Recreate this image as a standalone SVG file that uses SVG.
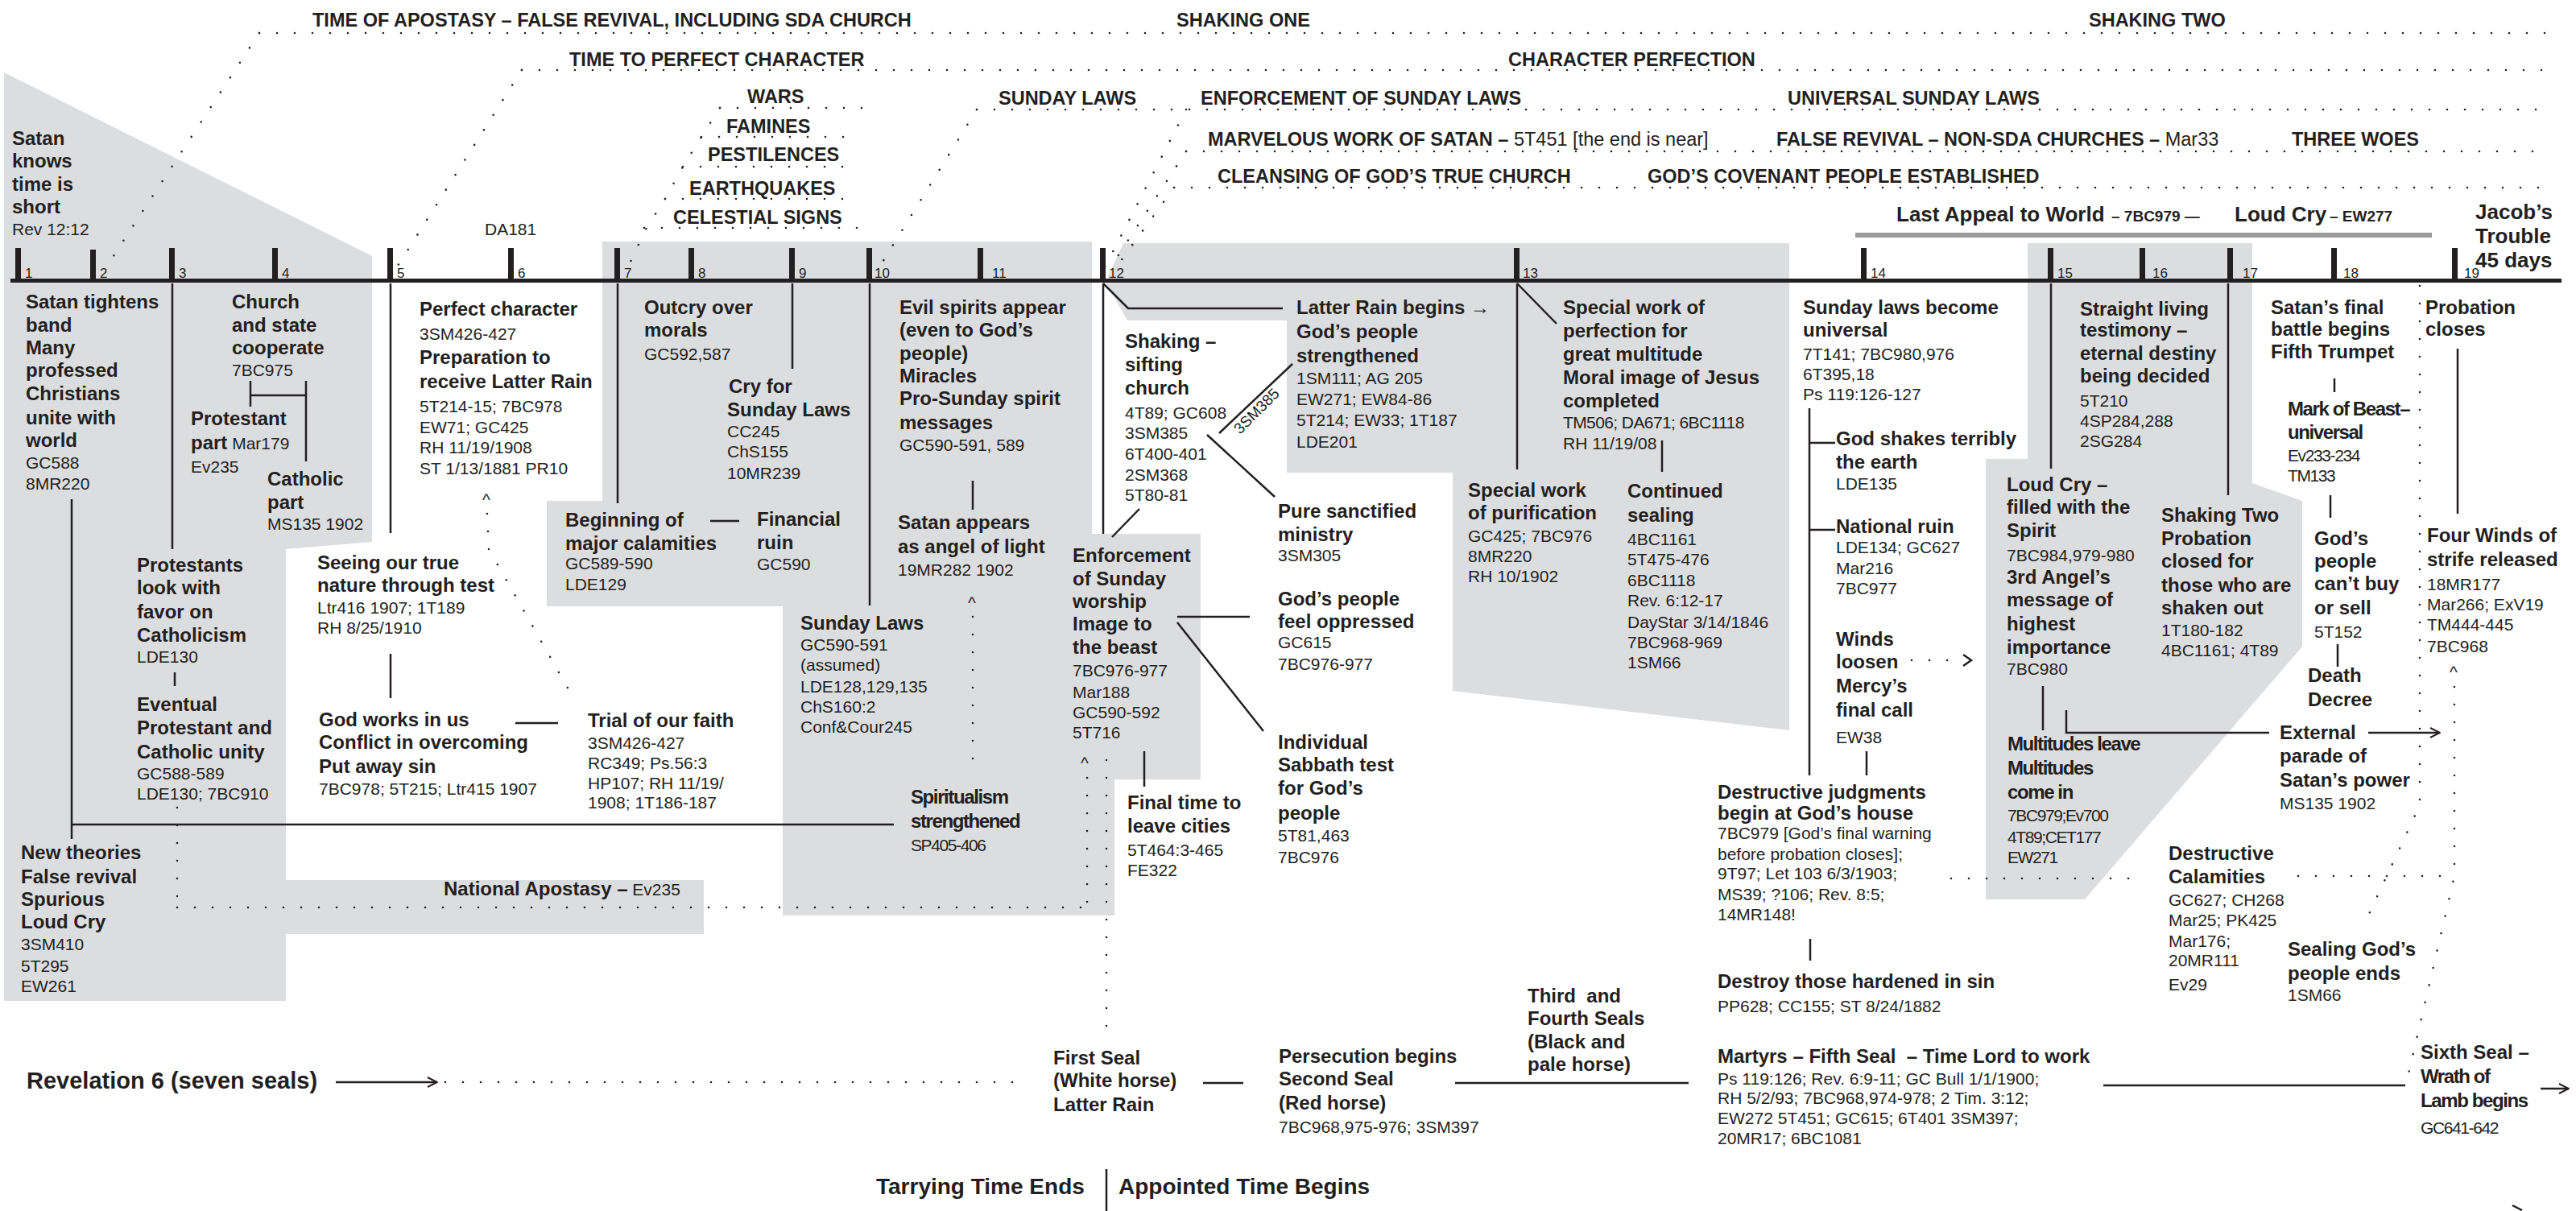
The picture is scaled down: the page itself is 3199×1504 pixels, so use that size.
<svg xmlns="http://www.w3.org/2000/svg" width="3199" height="1504" viewBox="0 0 3199 1504">
<style>
text{font-family:"Liberation Sans",Arial,Helvetica,sans-serif;fill:#231f20}
.b{font-weight:bold;font-size:24px}
.r{font-size:21px}
.rt{font-weight:normal;font-size:21px}
.h{font-weight:bold;font-size:23.5px}
.hr{font-weight:normal}
.n{font-size:17px}
.cd{letter-spacing:-1.4px}
.ln{stroke:#231f20;stroke-width:2.5;fill:none}
.dt{stroke:#231f20;stroke-width:2.6;stroke-dasharray:0 22;stroke-linecap:round;fill:none}
.gr{fill:#dcdddf}
.tk{fill:#231f20}
</style>
<defs>
<marker id="ah" viewBox="0 0 14 14" refX="13" refY="7" markerWidth="14" markerHeight="14" markerUnits="userSpaceOnUse" orient="auto"><path d="M1,1 L13,7 L1,13" fill="none" stroke="#231f20" stroke-width="2"/></marker>
</defs>
<rect width="3199" height="1504" fill="#fff"/>
<g id="backgrounds">
<polygon class="gr" points="5,90 462,318 462,673 355,682 355,1093 874,1093 874,1160 355,1160 355,1243 5,1243"/>
<polygon class="gr" points="748,300 1356,300 1356,663 1491,663 1491,968 1384,968 1384,1137 972,1137 972,753 679,753 679,622 748,622"/>
<polygon class="gr" points="1395,302 2222,302 2222,907 1804,858 1804,587 1598,587 1598,398 1400,398 1373,350"/>
<polygon class="gr" points="2518,302 2797,302 2797,600 2859,622 2859,803 2589,1117 2466,1117 2466,570 2518,570"/>
<rect x="2304" y="289" width="716" height="6" fill="#9a9a9a"/>
</g>
<g id="headings">
<text class="h" x="388" y="33">TIME OF APOSTASY – FALSE REVIVAL, INCLUDING SDA CHURCH</text>
<text class="h" x="1461" y="33">SHAKING ONE</text>
<text class="h" x="2594" y="33">SHAKING TWO</text>
<text class="h" x="707" y="82">TIME TO PERFECT CHARACTER</text>
<text class="h" x="1873" y="82">CHARACTER PERFECTION</text>
<text class="h" x="928" y="128">WARS</text>
<text class="h" x="902" y="165">FAMINES</text>
<text class="h" x="879" y="200">PESTILENCES</text>
<text class="h" x="856" y="242">EARTHQUAKES</text>
<text class="h" x="836" y="278">CELESTIAL SIGNS</text>
<text class="h" x="1240" y="130">SUNDAY LAWS</text>
<text class="h" x="1491" y="130">ENFORCEMENT OF SUNDAY LAWS</text>
<text class="h" x="2220" y="130">UNIVERSAL SUNDAY LAWS</text>
<text class="h" x="1500" y="181">MARVELOUS WORK OF SATAN –<tspan class="hr"> 5T451 [the end is near]</tspan></text>
<text class="h" x="2206" y="181">FALSE REVIVAL – NON-SDA CHURCHES –<tspan class="hr"> Mar33</tspan></text>
<text class="h" x="2846" y="181">THREE WOES</text>
<text class="h" x="1512" y="227">CLEANSING OF GOD’S TRUE CHURCH</text>
<text class="h" x="2046" y="227">GOD’S COVENANT PEOPLE ESTABLISHED</text>
<text class="b" style="font-size:26px" x="2355" y="275">Last Appeal to World<tspan style="font-size:19px" x="2622">– 7BC979 —</tspan><tspan x="2775">Loud Cry</tspan><tspan style="font-size:19px" x="2893">– EW277</tspan></text>
</g>
<g id="timeline">
<rect x="13" y="346" width="3168" height="5" class="tk"/>
<rect x="19" y="308" width="7" height="41" class="tk"/>
<rect x="112" y="310" width="7" height="39" class="tk"/>
<rect x="210" y="308" width="7" height="41" class="tk"/>
<rect x="338" y="308" width="7" height="41" class="tk"/>
<rect x="481" y="308" width="7" height="41" class="tk"/>
<rect x="631" y="308" width="7" height="41" class="tk"/>
<rect x="763" y="308" width="7" height="41" class="tk"/>
<rect x="855" y="308" width="7" height="41" class="tk"/>
<rect x="980" y="308" width="7" height="41" class="tk"/>
<rect x="1076" y="308" width="7" height="41" class="tk"/>
<rect x="1214" y="308" width="7" height="41" class="tk"/>
<rect x="1366" y="308" width="7" height="41" class="tk"/>
<rect x="1880" y="308" width="7" height="41" class="tk"/>
<rect x="2311" y="308" width="7" height="41" class="tk"/>
<rect x="2543" y="308" width="7" height="41" class="tk"/>
<rect x="2657" y="308" width="7" height="41" class="tk"/>
<rect x="2766" y="308" width="7" height="41" class="tk"/>
<rect x="2895" y="308" width="7" height="41" class="tk"/>
<rect x="3045" y="308" width="7" height="41" class="tk"/>
<text class="n" x="31" y="345">1</text>
<text class="n" x="124" y="345">2</text>
<text class="n" x="222" y="345">3</text>
<text class="n" x="350" y="345">4</text>
<text class="n" x="493" y="345">5</text>
<text class="n" x="643" y="345">6</text>
<text class="n" x="775" y="345">7</text>
<text class="n" x="867" y="345">8</text>
<text class="n" x="992" y="345">9</text>
<text class="n" x="1086" y="345">10</text>
<text class="n" x="1232" y="345">11</text>
<text class="n" x="1377" y="345">12</text>
<text class="n" x="1891" y="345">13</text>
<text class="n" x="2323" y="345">14</text>
<text class="n" x="2555" y="345">15</text>
<text class="n" x="2673" y="345">16</text>
<text class="n" x="2785" y="345">17</text>
<text class="n" x="2910" y="345">18</text>
<text class="n" x="3060" y="345">19</text>
</g>
<g id="connectors">
<line class="dt" x1="322" y1="41" x2="3165" y2="41"/>
<line class="dt" x1="648" y1="87" x2="3165" y2="87"/>
<line class="dt" x1="1213" y1="136" x2="3165" y2="136"/>
<line class="dt" x1="1473" y1="188" x2="3165" y2="188"/>
<line class="dt" x1="1458" y1="233" x2="3165" y2="233"/>
<line class="dt" x1="894" y1="134" x2="1078" y2="134"/>
<line class="dt" x1="871" y1="170" x2="1068" y2="170"/>
<line class="dt" x1="848" y1="207" x2="1065" y2="207"/>
<line class="dt" x1="826" y1="247" x2="1068" y2="247"/>
<line class="dt" x1="800" y1="283" x2="1073" y2="283"/>
<line class="dt" x1="322" y1="41" x2="133" y2="330"/>
<line class="dt" x1="648" y1="87" x2="494" y2="330"/>
<polyline class="dt" points="894,134 871,170 848,207 826,247 803,283 790,310 778,336"/>
<line class="dt" x1="1213" y1="136" x2="1090" y2="335"/>
<line class="dt" x1="1473" y1="136" x2="1372" y2="332"/>
<line class="dt" x1="1473" y1="188" x2="1379" y2="332"/>
<line class="dt" x1="1458" y1="233" x2="1386" y2="332"/>
<line class="ln" x1="214" y1="352" x2="214" y2="682"/>
<line class="ln" x1="485" y1="352" x2="485" y2="662"/>
<line class="ln" x1="767" y1="352" x2="767" y2="625"/>
<path class="ln" d="M311,473 V505 M380,473 V573 M311,491 H380"/>
<path class="ln" d="M89,620 V1042 M89,1024 H1110"/>
<line class="ln" x1="217" y1="835" x2="217" y2="852"/>
<line class="ln" x1="485" y1="812" x2="485" y2="867"/>
<line class="ln" x1="640" y1="898" x2="693" y2="898"/>
<polyline class="dt" points="605,638 607,682 715,872"/>
<line class="ln" x1="882" y1="647" x2="918" y2="647"/>
<line class="ln" x1="984" y1="352" x2="984" y2="458"/>
<line class="ln" x1="1080" y1="352" x2="1080" y2="752"/>
<line class="ln" x1="1208" y1="597" x2="1208" y2="633"/>
<line class="dt" x1="1208" y1="766" x2="1208" y2="946"/>
<line class="ln" x1="1370" y1="352" x2="1370" y2="663"/>
<path class="ln" d="M1370,352 L1401,383 H1593"/>
<line class="ln" x1="1415" y1="632" x2="1381" y2="667"/>
<line class="ln" x1="1514" y1="538" x2="1605" y2="452"/>
<line class="ln" x1="1499" y1="540" x2="1583" y2="617"/>
<line class="ln" x1="1462" y1="766" x2="1552" y2="766"/>
<line class="ln" x1="1462" y1="773" x2="1569" y2="908"/>
<line class="ln" x1="1421" y1="933" x2="1421" y2="977"/>
<line class="dt" x1="1350" y1="966" x2="1350" y2="1127"/>
<line class="dt" x1="1374" y1="944" x2="1374" y2="1275"/>
<line class="dt" x1="220" y1="1127" x2="1350" y2="1127"/>
<line class="dt" x1="220" y1="1003" x2="220" y2="1127"/>
<line class="ln" x1="1884" y1="352" x2="1884" y2="583"/>
<line class="ln" x1="1884" y1="352" x2="1933" y2="402"/>
<line class="ln" x1="2064" y1="547" x2="2064" y2="586"/>
<path class="ln" d="M2247,507 V963 M2247,550 H2279 M2247,658 H2279"/>
<line class="ln" x1="2318" y1="933" x2="2318" y2="963"/>
<line class="dt" x1="2374" y1="820" x2="2420" y2="820"/>
<path class="ln" d="M2438,813 L2448,820 L2438,827" stroke-width="2"/>
<line class="ln" x1="2248" y1="1166" x2="2248" y2="1193"/>
<line class="dt" x1="2423" y1="1091" x2="2655" y2="1091"/>
<line class="ln" x1="2547" y1="352" x2="2547" y2="582"/>
<line class="ln" x1="2767" y1="352" x2="2767" y2="615"/>
<line class="ln" x1="2537" y1="852" x2="2537" y2="907"/>
<path class="ln" d="M2566,882 V910 H2818"/>
<line class="ln" x1="2941" y1="910" x2="3030" y2="910" marker-end="url(#ah)"/>
<line class="ln" x1="2899" y1="470" x2="2899" y2="487"/>
<line class="ln" x1="2894" y1="615" x2="2894" y2="643"/>
<line class="ln" x1="2903" y1="800" x2="2903" y2="828"/>
<line class="ln" x1="3052" y1="433" x2="3052" y2="638" stroke-width="5"/>
<polyline class="dt" points="3005,355 3005,1000 2935,1150"/>
<polyline class="dt" points="3048,853 3048,1088 2990,1338"/>
<line class="dt" x1="2854" y1="1088" x2="3048" y2="1088"/>
<line class="ln" x1="417" y1="1344" x2="543" y2="1344" marker-end="url(#ah)"/>
<line class="dt" x1="553" y1="1344" x2="1274" y2="1344"/>
<line class="ln" x1="1494" y1="1345" x2="1544" y2="1345"/>
<line class="ln" x1="1807" y1="1345" x2="2097" y2="1345"/>
<line class="ln" x1="2612" y1="1348" x2="2987" y2="1348"/>
<line class="ln" x1="3155" y1="1352" x2="3190" y2="1352" stroke-width="3.5" marker-end="url(#ah)"/>
<path class="ln" d="M3120,1497 L3132,1503" stroke-width="2"/>
<line class="ln" x1="1374" y1="1452" x2="1374" y2="1504"/>
</g>
<g id="n-satan-knows"><text class="b" x="15"><tspan x="15" y="180">Satan</tspan><tspan x="15" y="208">knows</tspan><tspan x="15" y="237">time is</tspan><tspan x="15" y="265">short</tspan><tspan class="rt" x="15" y="292">Rev 12:12</tspan></text></g>
<g id="n-da181"><text class="r" x="602" y="292">DA181</text></g>
<g id="n-tightens"><text class="b"><tspan x="32" y="383">Satan tightens</tspan><tspan x="32" y="412">band</tspan><tspan x="32" y="440">Many</tspan><tspan x="32" y="468">professed</tspan><tspan x="32" y="497">Christians</tspan><tspan x="32" y="527">unite with</tspan><tspan x="32" y="555">world</tspan><tspan class="rt" x="32" y="582">GC588</tspan><tspan class="rt" x="32" y="608">8MR220</tspan></text></g>
<g id="n-church-state"><text class="b"><tspan x="288" y="383">Church</tspan><tspan x="288" y="412">and state</tspan><tspan x="288" y="440">cooperate</tspan><tspan class="rt" x="288" y="467">7BC975</tspan></text></g>
<g id="n-protestant-part"><text class="b"><tspan x="237" y="528">Protestant</tspan><tspan x="237" y="558">part</tspan><tspan class="rt"> Mar179</tspan><tspan class="rt" x="237" y="587">Ev235</tspan></text></g>
<g id="n-catholic-part"><text class="b"><tspan x="332" y="603">Catholic</tspan><tspan x="332" y="632">part</tspan><tspan class="rt" x="332" y="658">MS135 1902</tspan></text></g>
<g id="n-protestants-favor"><text class="b"><tspan x="170" y="710">Protestants</tspan><tspan x="170" y="738">look with</tspan><tspan x="170" y="768">favor on</tspan><tspan x="170" y="797">Catholicism</tspan><tspan class="rt" x="170" y="823">LDE130</tspan></text></g>
<g id="n-eventual"><text class="b"><tspan x="170" y="883">Eventual</tspan><tspan x="170" y="912">Protestant and</tspan><tspan x="170" y="942">Catholic unity</tspan><tspan class="rt" x="170" y="968">GC588-589</tspan><tspan class="rt" x="170" y="993">LDE130; 7BC910</tspan></text></g>
<g id="n-new-theories"><text class="b"><tspan x="26" y="1067">New theories</tspan><tspan x="26" y="1097">False revival</tspan><tspan x="26" y="1125">Spurious</tspan><tspan x="26" y="1153">Loud Cry</tspan><tspan class="rt" x="26" y="1180">3SM410</tspan><tspan class="rt" x="26" y="1207">5T295</tspan><tspan class="rt" x="26" y="1232">EW261</tspan></text></g>
<g id="n-perfect"><text class="b"><tspan x="521" y="392">Perfect character</tspan><tspan class="rt" x="521" y="422">3SM426-427</tspan><tspan x="521" y="452">Preparation to</tspan><tspan x="521" y="482">receive Latter Rain</tspan><tspan class="rt" x="521" y="512">5T214-15; 7BC978</tspan><tspan class="rt" x="521" y="538">EW71; GC425</tspan><tspan class="rt" x="521" y="563">RH 11/19/1908</tspan><tspan class="rt" x="521" y="589">ST 1/13/1881 PR10</tspan></text><text class="r" x="599" y="628">^</text></g>
<g id="n-seeing"><text class="b"><tspan x="394" y="707">Seeing our true</tspan><tspan x="394" y="735">nature through test</tspan><tspan class="rt" x="394" y="762">Ltr416 1907; 1T189</tspan><tspan class="rt" x="394" y="787">RH 8/25/1910</tspan></text></g>
<g id="n-god-works"><text class="b"><tspan x="396" y="902">God works in us</tspan><tspan x="396" y="930">Conflict in overcoming</tspan><tspan x="396" y="960">Put away sin</tspan><tspan class="rt" x="396" y="987">7BC978; 5T215; Ltr415 1907</tspan></text></g>
<g id="n-trial"><text class="b"><tspan x="730" y="903">Trial of our faith</tspan><tspan class="rt" x="730" y="930">3SM426-427</tspan><tspan class="rt" x="730" y="955">RC349; Ps.56:3</tspan><tspan class="rt" x="730" y="980">HP107; RH 11/19/</tspan><tspan class="rt" x="730" y="1004">1908; 1T186-187</tspan></text></g>
<g id="n-outcry"><text class="b"><tspan x="800" y="390">Outcry over</tspan><tspan x="800" y="418">morals</tspan><tspan class="rt" x="800" y="447">GC592,587</tspan></text></g>
<g id="n-cry-for"><text class="b"><tspan x="905" y="488">Cry for</tspan><tspan x="903" y="517">Sunday Laws</tspan><tspan class="rt" x="903" y="543">CC245</tspan><tspan class="rt" x="903" y="568">ChS155</tspan><tspan class="rt" x="903" y="595">10MR239</tspan></text></g>
<g id="n-beginning"><text class="b"><tspan x="702" y="654">Beginning of</tspan><tspan x="702" y="683">major calamities</tspan><tspan class="rt" x="702" y="707">GC589-590</tspan><tspan class="rt" x="702" y="733">LDE129</tspan></text></g>
<g id="n-financial"><text class="b"><tspan x="940" y="653">Financial</tspan><tspan x="940" y="682">ruin</tspan><tspan class="rt" x="940" y="708">GC590</tspan></text></g>
<g id="n-evil"><text class="b"><tspan x="1117" y="390">Evil spirits appear</tspan><tspan x="1117" y="418">(even to God’s</tspan><tspan x="1117" y="447">people)</tspan><tspan x="1117" y="475">Miracles</tspan><tspan x="1117" y="503">Pro-Sunday spirit</tspan><tspan x="1117" y="533">messages</tspan><tspan class="rt" x="1117" y="560">GC590-591, 589</tspan></text></g>
<g id="n-satan-appears"><text class="b"><tspan x="1115" y="657">Satan appears</tspan><tspan x="1115" y="687">as angel of light</tspan><tspan class="rt" x="1115" y="715">19MR282 1902</tspan></text><text class="r" x="1202" y="756">^</text></g>
<g id="n-sunday-laws"><text class="b"><tspan x="994" y="782">Sunday Laws</tspan><tspan class="rt" x="994" y="808">GC590-591</tspan><tspan class="rt" x="994" y="833">(assumed)</tspan><tspan class="rt" x="994" y="860">LDE128,129,135</tspan><tspan class="rt" x="994" y="885">ChS160:2</tspan><tspan class="rt" x="994" y="910">Conf&amp;Cour245</tspan></text></g>
<g id="n-spiritualism"><text class="b cd"><tspan x="1131" y="998">Spiritualism</tspan><tspan x="1131" y="1028">strengthened</tspan><tspan class="rt" x="1131" y="1057">SP405-406</tspan></text></g>
<g id="n-national-apostasy"><text class="b" x="551" y="1112">National Apostasy –<tspan class="rt"> Ev235</tspan></text></g>
<g id="n-enforcement"><text class="b"><tspan x="1332" y="698">Enforcement</tspan><tspan x="1332" y="727">of Sunday</tspan><tspan x="1332" y="755">worship</tspan><tspan x="1332" y="783">Image to</tspan><tspan x="1332" y="812">the beast</tspan><tspan class="rt" x="1332" y="840">7BC976-977</tspan><tspan class="rt" x="1332" y="867">Mar188</tspan><tspan class="rt" x="1332" y="892">GC590-592</tspan><tspan class="rt" x="1332" y="917">5T716</tspan></text><text class="r" x="1342" y="955">^</text></g>
<g id="n-final-time"><text class="b"><tspan x="1400" y="1005">Final time to</tspan><tspan x="1400" y="1034">leave cities</tspan><tspan class="rt" x="1400" y="1063">5T464:3-465</tspan><tspan class="rt" x="1400" y="1088">FE322</tspan></text></g>
<g id="n-shaking"><text class="b"><tspan x="1397" y="432">Shaking –</tspan><tspan x="1397" y="461">sifting</tspan><tspan x="1397" y="490">church</tspan><tspan class="rt" x="1397" y="520">4T89; GC608</tspan><tspan class="rt" x="1397" y="545">3SM385</tspan><tspan class="rt" x="1397" y="571">6T400-401</tspan><tspan class="rt" x="1397" y="597">2SM368</tspan><tspan class="rt" x="1397" y="622">5T80-81</tspan></text><text class="r" style="font-size:19px" transform="translate(1540,540) rotate(-45)" x="0" y="0">3SM385</text></g>
<g id="n-latter-rain"><text class="b"><tspan x="1610" y="390">Latter Rain begins →</tspan><tspan x="1610" y="420">God’s people</tspan><tspan x="1610" y="450">strengthened</tspan><tspan class="rt" x="1610" y="477">1SM111; AG 205</tspan><tspan class="rt" x="1610" y="503">EW271; EW84-86</tspan><tspan class="rt" x="1610" y="529">5T214; EW33; 1T187</tspan><tspan class="rt" x="1610" y="556">LDE201</tspan></text></g>
<g id="n-pure"><text class="b"><tspan x="1587" y="643">Pure sanctified</tspan><tspan x="1587" y="672">ministry</tspan><tspan class="rt" x="1587" y="697">3SM305</tspan></text></g>
<g id="n-oppressed"><text class="b"><tspan x="1587" y="752">God’s people</tspan><tspan x="1587" y="780">feel oppressed</tspan><tspan class="rt" x="1587" y="805">GC615</tspan><tspan class="rt" x="1587" y="832">7BC976-977</tspan></text></g>
<g id="n-individual"><text class="b"><tspan x="1587" y="930">Individual</tspan><tspan x="1587" y="958">Sabbath test</tspan><tspan x="1587" y="987">for God’s</tspan><tspan x="1587" y="1018">people</tspan><tspan class="rt" x="1587" y="1045">5T81,463</tspan><tspan class="rt" x="1587" y="1072">7BC976</tspan></text></g>
<g id="n-special-perfection"><text class="b"><tspan x="1941" y="390">Special work of</tspan><tspan x="1941" y="419">perfection for</tspan><tspan x="1941" y="448">great multitude</tspan><tspan x="1941" y="477">Moral image of Jesus</tspan><tspan x="1941" y="506">completed</tspan><tspan class="rt" x="1941" y="532" letter-spacing="-0.6">TM506; DA671; 6BC1118</tspan><tspan class="rt" x="1941" y="558">RH 11/19/08</tspan></text></g>
<g id="n-purification"><text class="b"><tspan x="1823" y="617">Special work</tspan><tspan x="1823" y="645">of purification</tspan><tspan class="rt" x="1823" y="673">GC425; 7BC976</tspan><tspan class="rt" x="1823" y="698">8MR220</tspan><tspan class="rt" x="1823" y="723">RH 10/1902</tspan></text></g>
<g id="n-sealing"><text class="b"><tspan x="2021" y="618">Continued</tspan><tspan x="2021" y="648">sealing</tspan><tspan class="rt" x="2021" y="677">4BC1161</tspan><tspan class="rt" x="2021" y="702">5T475-476</tspan><tspan class="rt" x="2021" y="728">6BC1118</tspan><tspan class="rt" x="2021" y="753">Rev. 6:12-17</tspan><tspan class="rt" x="2021" y="780">DayStar 3/14/1846</tspan><tspan class="rt" x="2021" y="805">7BC968-969</tspan><tspan class="rt" x="2021" y="830">1SM66</tspan></text></g>
<g id="n-sunday-universal"><text class="b"><tspan x="2239" y="390">Sunday laws become</tspan><tspan x="2239" y="418">universal</tspan><tspan class="rt" x="2239" y="447">7T141; 7BC980,976</tspan><tspan class="rt" x="2239" y="472">6T395,18</tspan><tspan class="rt" x="2239" y="497">Ps 119:126-127</tspan></text></g>
<g id="n-god-shakes"><text class="b"><tspan x="2280" y="553">God shakes terribly</tspan><tspan x="2280" y="582">the earth</tspan><tspan class="rt" x="2280" y="608">LDE135</tspan></text></g>
<g id="n-national-ruin"><text class="b"><tspan x="2280" y="662">National ruin</tspan><tspan class="rt" x="2280" y="687">LDE134; GC627</tspan><tspan class="rt" x="2280" y="713">Mar216</tspan><tspan class="rt" x="2280" y="738">7BC977</tspan></text></g>
<g id="n-winds"><text class="b"><tspan x="2280" y="802">Winds</tspan><tspan x="2280" y="830">loosen</tspan><tspan x="2280" y="860">Mercy’s</tspan><tspan x="2280" y="890">final call</tspan><tspan class="rt" x="2280" y="923">EW38</tspan></text></g>
<g id="n-destructive-judgments"><text class="b"><tspan x="2133" y="992">Destructive judgments</tspan><tspan x="2133" y="1018">begin at God’s house</tspan><tspan class="rt" x="2133" y="1042">7BC979 [God’s final warning</tspan><tspan class="rt" x="2133" y="1068">before probation closes];</tspan><tspan class="rt" x="2133" y="1092">9T97; Let 103 6/3/1903;</tspan><tspan class="rt" x="2133" y="1118">MS39; ?106; Rev. 8:5;</tspan><tspan class="rt" x="2133" y="1143">14MR148!</tspan></text></g>
<g id="n-destroy"><text class="b"><tspan x="2133" y="1227">Destroy those hardened in sin</tspan><tspan class="rt" x="2133" y="1257">PP628; CC155; ST 8/24/1882</tspan></text></g>
<g id="n-martyrs"><text class="b"><tspan x="2133" y="1320" xml:space="preserve">Martyrs – Fifth Seal  – Time Lord to work</tspan><tspan class="rt" x="2133" y="1347">Ps 119:126; Rev. 6:9-11; GC Bull 1/1/1900;</tspan><tspan class="rt" x="2133" y="1371">RH 5/2/93; 7BC968,974-978; 2 Tim. 3:12;</tspan><tspan class="rt" x="2133" y="1396">EW272 5T451; GC615; 6T401 3SM397;</tspan><tspan class="rt" x="2133" y="1421">20MR17; 6BC1081</tspan></text></g>
<g id="n-straight"><text class="b"><tspan x="2583" y="392">Straight living</tspan><tspan x="2583" y="418">testimony –</tspan><tspan x="2583" y="447">eternal destiny</tspan><tspan x="2583" y="475">being decided</tspan><tspan class="rt" x="2583" y="505">5T210</tspan><tspan class="rt" x="2583" y="530">4SP284,288</tspan><tspan class="rt" x="2583" y="555">2SG284</tspan></text></g>
<g id="n-loud-cry"><text class="b"><tspan x="2492" y="610">Loud Cry –</tspan><tspan x="2492" y="638">filled with the</tspan><tspan x="2492" y="667">Spirit</tspan><tspan class="rt" x="2492" y="697">7BC984,979-980</tspan><tspan x="2492" y="725">3rd Angel’s</tspan><tspan x="2492" y="753">message of</tspan><tspan x="2492" y="783">highest</tspan><tspan x="2492" y="812">importance</tspan><tspan class="rt" x="2492" y="838">7BC980</tspan></text></g>
<g id="n-shaking-two"><text class="b"><tspan x="2684" y="648">Shaking Two</tspan><tspan x="2684" y="677">Probation</tspan><tspan x="2684" y="705">closed for</tspan><tspan x="2684" y="735">those who are</tspan><tspan x="2684" y="763">shaken out</tspan><tspan class="rt" x="2684" y="790">1T180-182</tspan><tspan class="rt" x="2684" y="815">4BC1161; 4T89</tspan></text></g>
<g id="n-multitudes"><text class="b cd"><tspan x="2493" y="932">Multitudes leave</tspan><tspan x="2493" y="962">Multitudes</tspan><tspan x="2493" y="992">come in</tspan><tspan class="rt" x="2493" y="1020">7BC979;Ev700</tspan><tspan class="rt" x="2493" y="1047">4T89;CET177</tspan><tspan class="rt" x="2493" y="1072">EW271</tspan></text></g>
<g id="n-satans-final"><text class="b"><tspan x="2820" y="390">Satan’s final</tspan><tspan x="2820" y="417">battle begins</tspan><tspan x="2820" y="445">Fifth Trumpet</tspan></text></g>
<g id="n-mark-beast"><text class="b cd"><tspan x="2841" y="516">Mark of Beast–</tspan><tspan x="2841" y="545">universal</tspan><tspan class="rt" x="2841" y="573">Ev233-234</tspan><tspan class="rt" x="2841" y="598">TM133</tspan></text></g>
<g id="n-cant-buy"><text class="b"><tspan x="2874" y="677">God’s</tspan><tspan x="2874" y="705">people</tspan><tspan x="2874" y="733">can’t buy</tspan><tspan x="2874" y="763">or sell</tspan><tspan class="rt" x="2874" y="792">5T152</tspan></text></g>
<g id="n-death-decree"><text class="b"><tspan x="2866" y="847">Death</tspan><tspan x="2866" y="877">Decree</tspan></text></g>
<g id="n-external"><text class="b"><tspan x="2831" y="918">External</tspan><tspan x="2831" y="947">parade of</tspan><tspan x="2831" y="977">Satan’s power</tspan><tspan class="rt" x="2831" y="1005">MS135 1902</tspan></text></g>
<g id="n-probation"><text class="b"><tspan x="3012" y="390">Probation</tspan><tspan x="3012" y="417">closes</tspan></text></g>
<g id="n-four-winds"><text class="b"><tspan x="3014" y="673">Four Winds of</tspan><tspan x="3014" y="703">strife released</tspan><tspan class="rt" x="3014" y="733">18MR177</tspan><tspan class="rt" x="3014" y="758">Mar266; ExV19</tspan><tspan class="rt" x="3014" y="783">TM444-445</tspan><tspan class="rt" x="3014" y="810">7BC968</tspan></text><text class="r" x="3042" y="842">^</text></g>
<g id="n-jacob"><text class="b" style="font-size:26px"><tspan x="3074" y="272">Jacob’s</tspan><tspan x="3074" y="302">Trouble</tspan><tspan x="3074" y="332">45 days</tspan></text></g>
<g id="n-destructive-calamities"><text class="b"><tspan x="2693" y="1068">Destructive</tspan><tspan x="2693" y="1097">Calamities</tspan><tspan class="rt" x="2693" y="1125">GC627; CH268</tspan><tspan class="rt" x="2693" y="1150">Mar25; PK425</tspan><tspan class="rt" x="2693" y="1176">Mar176;</tspan><tspan class="rt" x="2693" y="1200">20MR111</tspan><tspan class="rt" x="2693" y="1230">Ev29</tspan></text></g>
<g id="n-sealing-ends"><text class="b"><tspan x="2841" y="1187">Sealing God’s</tspan><tspan x="2841" y="1217">people ends</tspan><tspan class="rt" x="2841" y="1243">1SM66</tspan></text></g>
<g id="n-revelation"><text class="b" style="font-size:29px" x="33" y="1352">Revelation 6 (seven seals)</text></g>
<g id="n-first-seal"><text class="b"><tspan x="1308" y="1322">First Seal</tspan><tspan x="1308" y="1350">(White horse)</tspan><tspan x="1308" y="1380">Latter Rain</tspan></text></g>
<g id="n-second-seal"><text class="b"><tspan x="1588" y="1320">Persecution begins</tspan><tspan x="1588" y="1348">Second Seal</tspan><tspan x="1588" y="1378">(Red horse)</tspan><tspan class="rt" x="1588" y="1407">7BC968,975-976; 3SM397</tspan></text></g>
<g id="n-third-fourth"><text class="b"><tspan x="1897" y="1245" xml:space="preserve">Third  and</tspan><tspan x="1897" y="1273">Fourth Seals</tspan><tspan x="1897" y="1302">(Black and</tspan><tspan x="1897" y="1330">pale horse)</tspan></text></g>
<g id="n-sixth"><text class="b"><tspan x="3006" y="1315">Sixth Seal –</tspan><tspan class="cd" x="3006" y="1345">Wrath of</tspan><tspan class="cd" x="3006" y="1375">Lamb begins</tspan><tspan class="rt cd" x="3006" y="1408">GC641-642</tspan></text></g>
<g id="n-tarrying"><text class="b" style="font-size:28px" x="1088" y="1483">Tarrying Time Ends</text><text class="b" style="font-size:28px" x="1389" y="1483">Appointed Time Begins</text></g>
</svg>
